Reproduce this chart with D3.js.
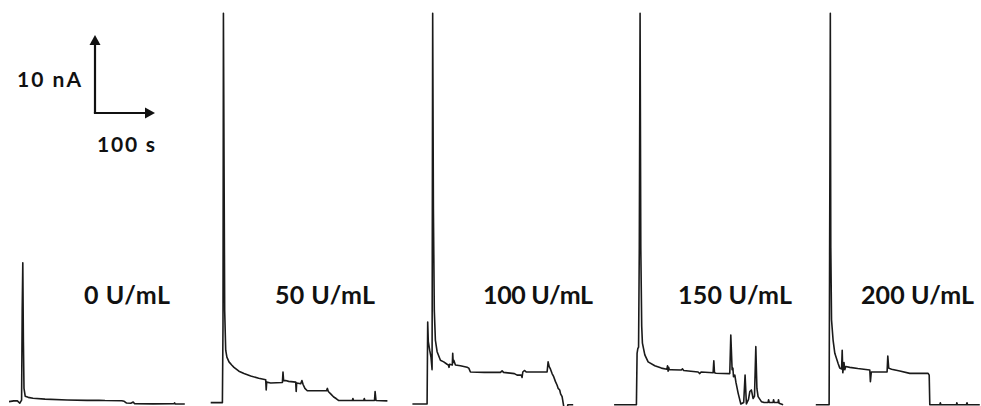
<!DOCTYPE html>
<html>
<head>
<meta charset="utf-8">
<script src="https://cdn.jsdelivr.net/npm/d3@7"></script>
<style>
  body{margin:0;background:#fff;}
  svg{display:block;}
  text{font-family:Lato,"Open Sans",sans-serif;font-weight:bold;fill:#111;}
</style>
</head>
<body>
<svg></svg>
<script>
// concentration labels for the five panels
var labels=["0 U/mL","50 U/mL","100 U/mL","150 U/mL","200 U/mL"];

// traces: [time (s), current (nA)]
var trace0=[[0,0.3],[8,0.4],[14,0.4],[18,0.1],[21,0.5],[22,12],[23,18.1],[24,8],[25,2],[27,1.0],[32,0.85],[40,0.73],[60,0.62],[97,0.52],[130,0.46],[150,0.47],[160,0.44],[188,0.42],[192,0.35],[196,0.12],[203,0.1],[207,0.25],[209,0.05],[240,0.02],[275,0.03],[276,0.15],[277,0.02],[293,0]];
var trace50=[[0,0.17],[19.5,0.17],[20.5,10],[21.2,50.1],[22.3,30],[23.3,12],[25,6.9],[27,6.0],[30.5,5.4],[35,5.0],[38.8,4.7],[47,4.2],[55.5,3.9],[66.7,3.6],[80,3.3],[91.7,3.1],[92.5,1.8],[93.3,2.8],[100,2.7],[119.5,2.75],[120.5,4.1],[121.5,3.0],[125,3.0],[130,2.9],[141.7,2.8],[142.5,1.6],[143.3,2.7],[150,2.6],[152,3.0],[154,2.5],[157,2.0],[161,1.7],[193,1.7],[194.5,2.0],[196,1.6],[200,1.3],[205,0.9],[209,0.7],[213,0.45],[236,0.45],[237,0.7],[238,0.45],[255,0.45],[256,0.7],[257,0.45],[273,0.45],[274,1.6],[275.5,0.45],[294.5,0.4]];
var trace100=[[0,0],[24.5,0],[25.5,10.5],[26.5,8],[28.8,6.9],[31,6],[32.8,4.4],[33.8,50.1],[35,25],[36.5,12],[38.3,8.2],[41.2,6.7],[46.7,5.6],[52.2,5.4],[57.8,5.1],[60,5.0],[61,4.7],[62,5.1],[66.5,5.0],[67.2,6.5],[68,5.3],[69,5.6],[71.7,5.0],[80,4.9],[91.2,4.7],[94,4.6],[96.7,4.1],[120,4.05],[146.7,4.05],[149.5,4.25],[152,4.05],[170,3.9],[174.5,3.7],[181.5,3.7],[182.8,3.4],[184,4.1],[186.7,4.3],[190,4.1],[224.5,4.1],[226.2,5.4],[228,4.8],[230,4.5],[232.8,3.9],[235.5,3.5],[238.3,2.9],[241.2,2.4],[243,2.0],[245.5,1.8],[247,1.3],[249.5,0.94],[252.2,-0.3],[253,-0.6],[258,-0.6],[259,-0.1],[268,-0.1]];
var trace150=[[0,-0.1],[37.2,-0.1],[38.3,6.5],[39.5,7.1],[40.8,7.3],[42,20],[43.3,50.1],[44.5,20],[46,10],[47.2,7.8],[51.2,6.3],[56.7,5.4],[67.8,4.9],[78.8,4.6],[88,4.45],[89,4.9],[90,4.2],[91,4.7],[92,4.4],[95,4.4],[112,4.36],[114,4.5],[116,4.3],[140,4.1],[142.8,3.9],[145,4.1],[165,4.0],[166.2,5.55],[167.3,4.0],[170,3.95],[192.8,3.9],[194.5,8.85],[196.7,4.4],[198,4.6],[199,3.5],[201.2,3.7],[203,2.8],[206.7,1.4],[211.2,0],[216,0.2],[218.3,3.7],[220.5,0],[224,0.6],[226.2,1.6],[228.8,1.8],[231.7,0.7],[234,1.0],[236.2,7.35],[238,2],[240,0.94],[245.5,0.3],[250,0.2],[256.7,0.2],[257.5,0.55],[258.5,0.2],[265,0.2],[265.8,0.55],[266.8,0.2],[273.3,0.2],[274,0.55],[275,0.1],[281.7,-0.1]];
var trace200=[[0,-0.1],[22.2,-0.1],[23.5,30],[24.2,50.1],[25,20],[26.2,10.8],[28.8,8.2],[31.7,6.5],[37.2,5.2],[40,4.6],[43,4.5],[44,6.9],[45,4.0],[46,4.6],[47,5.3],[48.3,4.4],[50,4.8],[56.7,4.7],[70,4.55],[90,4.36],[91,2.86],[92.5,4.1],[95.5,4.1],[118.8,4.1],[120,6.15],[121.5,4.6],[126.2,4.45],[140,4.23],[156.7,3.93],[187.2,3.93],[189,3.7],[190,-0.1],[206.7,-0.1],[207.5,0.15],[208.5,-0.1],[234.5,-0.1],[235,0.15],[236,-0.1],[251,-0.1],[252,0.15],[253,-0.1],[273.3,-0.1]];

var traces=[trace0,trace50,trace100,trace150,trace200];

// scale bar values
var barCurrent=10; // nA
var barTime=100;   // s

var w=981;
var h=406;

var panelScale=d3.scaleBand()
                 .domain(labels)
                 .range([9,9+5*201.7])
                 .paddingInner(0);
var tScale=d3.scaleLinear()
             .domain([0,100])
             .range([0,60]);
var yScale=d3.scaleLinear()
             .domain([0,50])
             .range([404,14]);

// label layout (left x, text width)
var labelX=[84,275,483,678,861];
var labelW=[86,100,110,114,113];

var svg=d3.select("svg")
          .attr("width",w)
          .attr("height",h);

var line=d3.line()
           .x(function(d){return tScale(d[0]);})
           .y(function(d){return yScale(d[1]);});

var panels=svg.selectAll("g.panel")
              .data(traces)
              .enter()
              .append("g")
              .classed("panel",true)
              .attr("transform",function(d,i){
                return "translate("+panelScale(labels[i])+",0)";
              });

panels.append("path")
      .attr("d",function(d){return line(d);})
      .attr("fill","none")
      .attr("stroke","#1a1a1a")
      .attr("stroke-width",1.6)
      .attr("stroke-linejoin","round");

svg.selectAll("text.conc")
   .data(labels)
   .enter()
   .append("text")
   .classed("conc",true)
   .attr("x",function(d,i){return labelX[i];})
   .attr("y",304)
   .attr("font-size",25)
   .attr("textLength",function(d,i){return labelW[i];})
   .attr("lengthAdjust","spacing")
   .text(function(d){return d;});

// scale bar
var cx=95, cy=113;
var barH=yScale(0)-yScale(barCurrent);
var barW=tScale(barTime);
var bar=svg.append("g");
bar.append("line")
   .attr("x1",cx).attr("y1",cy)
   .attr("x2",cx).attr("y2",cy-barH+9)
   .attr("stroke","#111").attr("stroke-width",2.2);
bar.append("line")
   .attr("x1",cx-1.1).attr("y1",cy)
   .attr("x2",cx+barW-9).attr("y2",cy)
   .attr("stroke","#111").attr("stroke-width",2.2);
bar.append("path")
   .attr("d","M"+cx+","+(cy-barH)+"L"+(cx-5.5)+","+(cy-barH+10)+"L"+(cx+5.5)+","+(cy-barH+10)+"Z")
   .attr("fill","#111");
bar.append("path")
   .attr("d","M"+(cx+barW)+","+cy+"L"+(cx+barW-10)+","+(cy-5.5)+"L"+(cx+barW-10)+","+(cy+5.5)+"Z")
   .attr("fill","#111");
bar.append("text")
   .attr("x",17).attr("y",87)
   .attr("font-size",21)
   .attr("textLength",64)
   .attr("lengthAdjust","spacing")
   .text(barCurrent+" nA");
bar.append("text")
   .attr("x",97).attr("y",152)
   .attr("font-size",21)
   .attr("textLength",58)
   .attr("lengthAdjust","spacing")
   .text(barTime+" s");
</script>
</body>
</html>
